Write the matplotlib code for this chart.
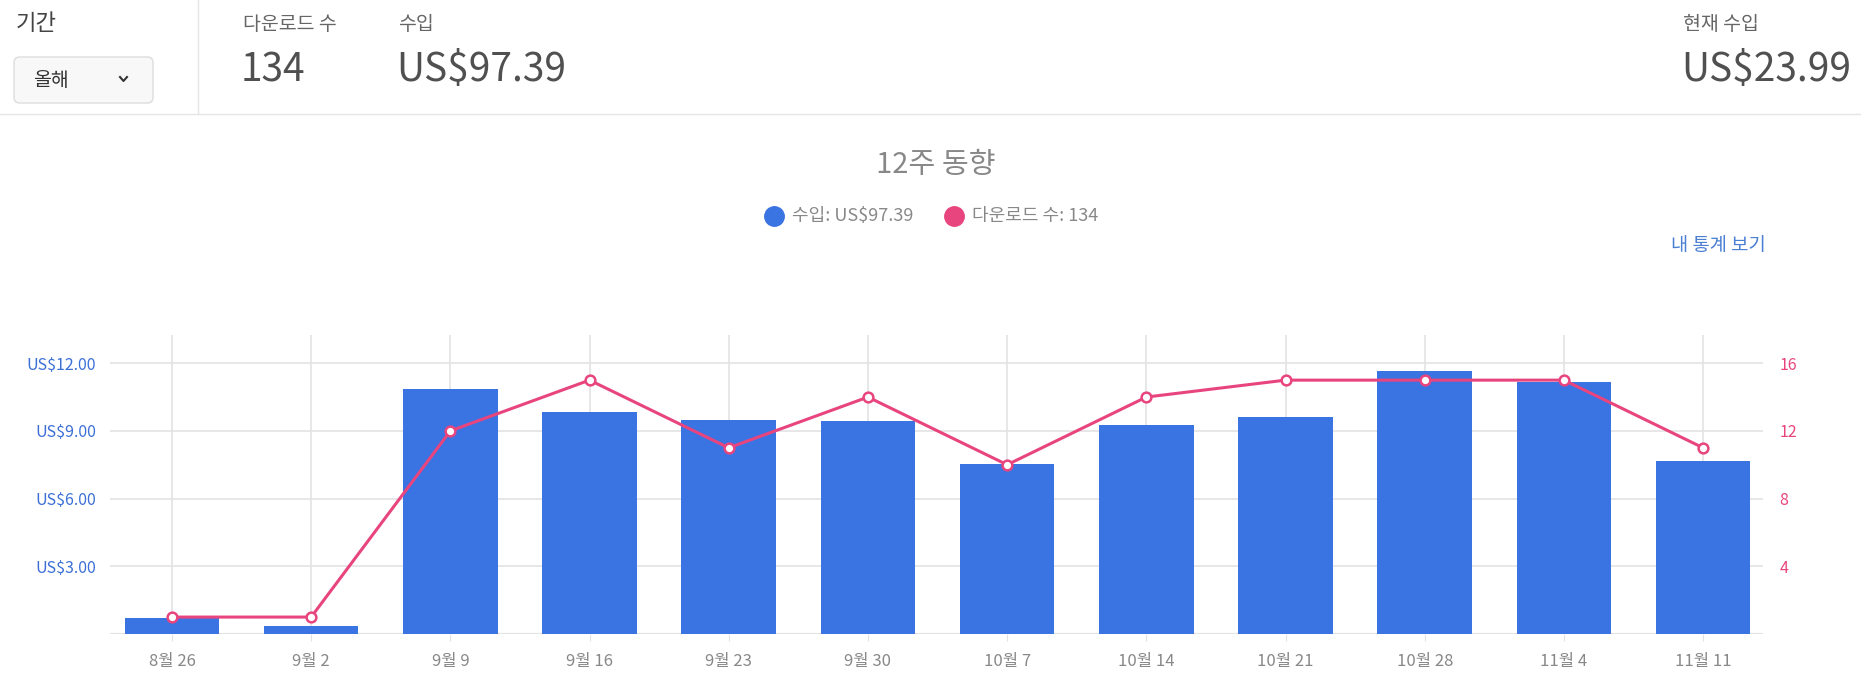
import numpy as np
import matplotlib
matplotlib.use('Agg')
import matplotlib.pyplot as plt
from matplotlib.lines import Line2D
from matplotlib.patches import FancyBboxPatch

plt.rcParams['font.family'] = ['Noto Sans CJK KR', 'DejaVu Sans']

# 데이터
weeks = ['8월 26', '9월 2', '9월 9', '9월 16', '9월 23', '9월 30',
         '10월 7', '10월 14', '10월 21', '10월 28', '11월 4', '11월 11']
revenue = [0.70, 0.34, 10.84, 9.85, 9.48, 9.45, 7.55, 9.26, 9.63, 11.64, 11.18, 7.68]
downloads = [1, 1, 12, 15, 11, 14, 10, 14, 15, 15, 15, 11]
left_ticks = [3, 6, 9, 12]
right_ticks = [4, 8, 12, 16]

BLUE = '#3a73e2'
PINK = '#e8457f'
GRID = '#e3e3e3'

W, H = 1861, 690
fig = plt.figure(figsize=(W / 100, H / 100), dpi=100)


def fx(x):
    return x / W


def fy(y):
    return 1 - y / H


# 상단 헤더
fig.text(fx(16), fy(24), '기간', fontsize=16, color='#444444', va='center')
box = FancyBboxPatch((fx(14), fy(103)), fx(139), (103 - 57) / H,
                     boxstyle='round,pad=0,rounding_size=0.003',
                     mutation_aspect=W / H,
                     transform=fig.transFigure, facecolor='#f8f8f8',
                     edgecolor='#dddddd', lw=1)
fig.add_artist(box)
fig.text(fx(33), fy(81), '올해', fontsize=14, color='#333333', va='center')
fig.add_artist(Line2D([fx(120), fx(123.5), fx(127)], [fy(77), fy(81), fy(77)],
                      color='#333333', lw=1.5, transform=fig.transFigure))

fig.add_artist(Line2D([fx(198), fx(198)], [fy(0), fy(114)], color='#e5e5e5', lw=1,
                      transform=fig.transFigure))
fig.add_artist(Line2D([0, 1], [fy(114), fy(114)], color='#e5e5e5', lw=1,
                      transform=fig.transFigure))

fig.text(fx(243), fy(25), '다운로드 수', fontsize=14, color='#666666', va='center')
fig.text(fx(241), fy(70), '134', fontsize=28, color='#505050', va='center', weight='light')
fig.text(fx(398), fy(25), '수입', fontsize=14, color='#666666', va='center')
fig.text(fx(396), fy(70), 'US$97.39', fontsize=28, color='#505050', va='center', weight='light')
fig.text(fx(1683), fy(25), '현재 수입', fontsize=14, color='#666666', va='center')
fig.text(fx(1681), fy(70), 'US$23.99', fontsize=28, color='#505050', va='center', weight='light')

# 제목과 범례
fig.text(fx(936), fy(165), '12주 동향', fontsize=21, color='#888888', ha='center', va='center')
fig.add_artist(Line2D([fx(774)], [fy(216)], marker='o', ms=14, color=BLUE,
                      transform=fig.transFigure))
fig.text(fx(792), fy(216), '수입: US$97.39', fontsize=13, color='#888888', va='center')
fig.add_artist(Line2D([fx(954)], [fy(216)], marker='o', ms=14, color=PINK,
                      transform=fig.transFigure))
fig.text(fx(972), fy(216), '다운로드 수: 134', fontsize=13, color='#888888', va='center')
fig.text(fx(1766), fy(245), '내 통계 보기', fontsize=13.5, color='#4a7fd4', ha='right', va='center')

# 차트
ax = fig.add_axes([fx(110), fy(634), (1763 - 110) / W, (634 - 335) / H])
x = np.arange(len(weeks))
ax.bar(x, revenue, width=0.68, color=BLUE, zorder=2)
ax.set_xlim(-0.445, 11.43)
ax.set_ylim(0, 13.25)
ax.set_yticks(left_ticks)
ax.set_yticklabels(['US$%.2f' % v for v in left_ticks])
ax.set_xticks(x)
ax.set_xticklabels(weeks)
for v in left_ticks:
    ax.axhline(v, color=GRID, lw=1.2, zorder=0)
for xi in x:
    ax.axvline(xi, color=GRID, lw=1.2, zorder=0)
ax.axhline(0, color=GRID, lw=1.5, zorder=1)
ax.tick_params(axis='y', length=0, pad=10, labelsize=11.5, labelcolor='#3b6fd6')
ax.tick_params(axis='x', length=5, color=GRID, pad=9, labelsize=12, labelcolor='#888888')
for s in ax.spines.values():
    s.set_visible(False)

ax2 = ax.twinx()
ax2.plot(x, downloads, color=PINK, lw=2.2, marker='o', ms=7,
         markerfacecolor='white', markeredgecolor=PINK, markeredgewidth=1.8)
ax2.set_ylim(0, 13.25 * 16 / 12)
ax2.set_yticks(right_ticks)
ax2.tick_params(axis='y', length=0, pad=12, labelsize=11.5, labelcolor=PINK)
for s in ax2.spines.values():
    s.set_visible(False)

fig.savefig('out.png', dpi=100)
